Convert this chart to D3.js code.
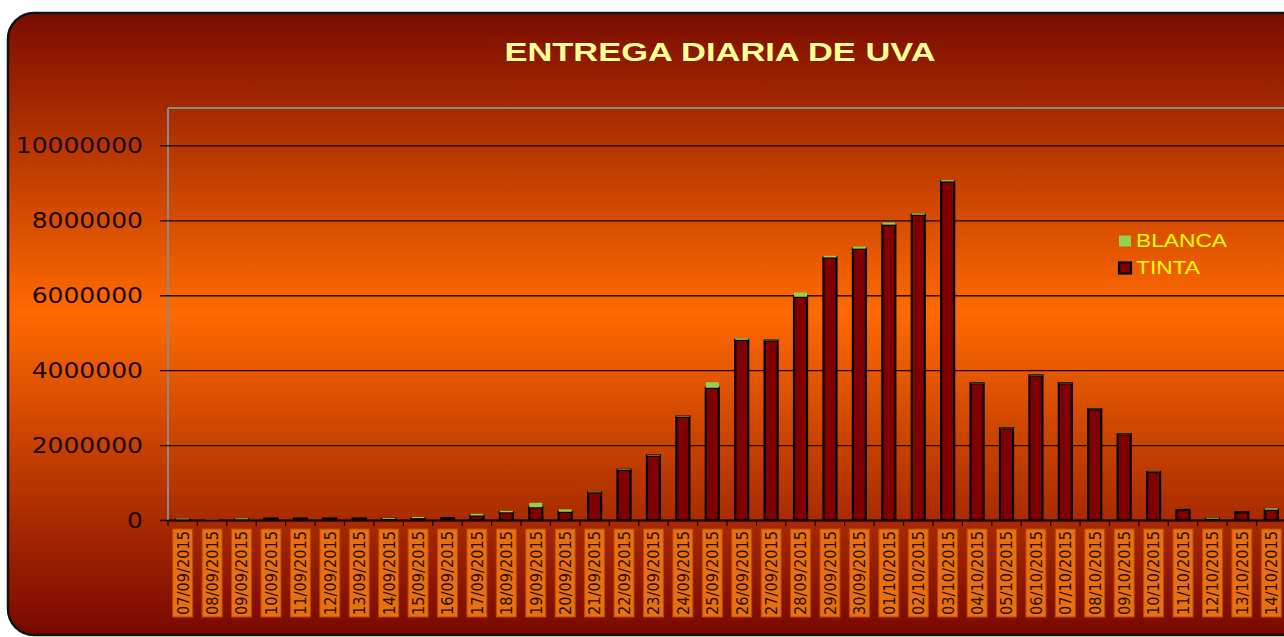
<!DOCTYPE html>
<html>
<head>
<meta charset="utf-8">
<script src="https://cdn.jsdelivr.net/npm/d3@7"></script>
<style>
  body { margin: 0; background: #fff; }
</style>
</head>
<body>
<div id="chart"></div>
<script>
// Entrega diaria de uva

var dates = ["07/09/2015", "08/09/2015", "09/09/2015", "10/09/2015", "11/09/2015", "12/09/2015",
  "13/09/2015", "14/09/2015", "15/09/2015", "16/09/2015", "17/09/2015", "18/09/2015", "19/09/2015",
  "20/09/2015", "21/09/2015", "22/09/2015", "23/09/2015", "24/09/2015", "25/09/2015", "26/09/2015",
  "27/09/2015", "28/09/2015", "29/09/2015", "30/09/2015", "01/10/2015", "02/10/2015", "03/10/2015",
  "04/10/2015", "05/10/2015", "06/10/2015", "07/10/2015", "08/10/2015", "09/10/2015", "10/10/2015",
  "11/10/2015", "12/10/2015", "13/10/2015", "14/10/2015"];

var tinta = [10000, 0, 15000, 40000, 40000, 40000, 40000, 30000, 50000, 50000, 120000, 205000, 340000,
  220000, 740000, 1340000, 1720000, 2760000, 3530000, 4810000, 4790000, 5960000, 7010000, 7245000,
  7885000, 8150000, 9040000, 3650000, 2450000, 3860000, 3650000, 2960000, 2290000, 1280000,
  267000, 35000, 205000, 275000];

var blanca = [30000, 15000, 30000, 0, 0, 0, 0, 25000, 30000, 0, 45000, 40000, 120000,
  64000, 20000, 15000, 15000, 15000, 150000, 40000, 10000, 115000, 45000, 55000,
  55000, 35000, 35000, 10000, 10000, 10000, 10000, 10000, 10000, 10000,
  0, 25000, 0, 37000];

var yTicks = [0, 2000000, 4000000, 6000000, 8000000, 10000000];
var seriesNames = ["BLANCA", "TINTA"];
var seriesColors = ["#92d050", "#800000"];

var svgWidth = 1284, svgHeight = 637;
var margin = {top: 108, left: 168, bottom: 117};
var plotWidth = 1118;
var plotHeight = svgHeight - margin.top - margin.bottom;
var stretch = 1.3; // the original picture is wider than tall fonts

var svg = d3.select("#chart").append("svg")
  .attr("width", svgWidth)
  .attr("height", svgHeight);

var defs = svg.append("defs");
var grad = defs.append("linearGradient")
  .attr("id", "bg")
  .attr("x1", 0).attr("y1", 0).attr("x2", 0).attr("y2", 1);
grad.append("stop").attr("offset", "0%").attr("stop-color", "#7a0c00");
grad.append("stop").attr("offset", "48%").attr("stop-color", "#ff6a00");
grad.append("stop").attr("offset", "100%").attr("stop-color", "#780800");

svg.append("rect")
  .attr("x", 8).attr("y", 13)
  .attr("width", 1310).attr("height", 622)
  .attr("rx", 26).attr("ry", 26)
  .attr("fill", "url(#bg)")
  .attr("stroke", "#111")
  .attr("stroke-width", 2.5);

svg.append("text")
  .attr("transform", `translate(720, 61) scale(${stretch}, 1)`)
  .attr("text-anchor", "middle")
  .attr("font-family", "Liberation Sans, Arial, sans-serif")
  .attr("font-weight", "bold")
  .attr("font-size", "26.5px")
  .attr("fill", "#ffff99")
  .text("ENTREGA DIARIA DE UVA");

var chartGroup = svg.append("g")
  .attr("transform", `translate(${margin.left}, ${margin.top})`);

var xScale = d3.scaleBand()
  .domain(dates)
  .range([0, plotWidth])
  .paddingInner(0.5)
  .paddingOuter(0.25);

var yScale = d3.scaleLinear()
  .domain([0, 11000000])
  .range([plotHeight, 0]);

// plot area frame
chartGroup.append("line")
  .attr("x1", 0).attr("x2", plotWidth).attr("y1", 0).attr("y2", 0)
  .attr("stroke", "#8a8a8a").attr("stroke-width", 2);
chartGroup.append("line")
  .attr("x1", 0).attr("x2", 0).attr("y1", 0).attr("y2", plotHeight)
  .attr("stroke", "#8a8a8a").attr("stroke-width", 2);

// y axis with gridlines
var yAxis = d3.axisLeft(yScale)
  .tickValues(yTicks)
  .tickSize(-plotWidth)
  .tickFormat(d3.format("d"));

var yG = chartGroup.append("g").call(yAxis);
yG.select(".domain").remove();
yG.selectAll(".tick line")
  .attr("x1", -8)
  .attr("stroke", "#1a0500")
  .attr("stroke-width", 1.3);
yG.selectAll(".tick text")
  .attr("x", null)
  .attr("transform", "translate(-25, 0) scale(1.22, 1)")
  .attr("font-family", "DejaVu Sans, sans-serif")
  .attr("font-size", "20.5px")
  .attr("fill", "#1a0800")
  .attr("dy", "0.36em");

// stacked bars
var stackData = dates.map(function(d, i) {
  return {date: d, TINTA: tinta[i], BLANCA: blanca[i]};
});
var stack = d3.stack().keys(["TINTA", "BLANCA"]);
var layers = stack(stackData);

var bw = 13;
chartGroup.selectAll(".layer")
  .data(layers)
  .enter().append("g")
  .attr("class", "layer")
  .attr("fill", d => d.key === "TINTA" ? seriesColors[1] : seriesColors[0])
  .attr("stroke", d => d.key === "TINTA" ? "#000" : "none")
  .attr("stroke-width", 2.2)
  .selectAll("rect")
  .data(d => d)
  .enter().append("rect")
  .attr("x", d => xScale(d.data.date) + xScale.bandwidth() / 2 - bw / 2)
  .attr("y", d => yScale(d[1]))
  .attr("width", bw)
  .attr("height", d => Math.max(0, yScale(d[0]) - yScale(d[1])));

// x axis
var xAxis = d3.axisBottom(xScale).tickSize(0).tickFormat("");
var xG = chartGroup.append("g")
  .attr("transform", `translate(0, ${plotHeight})`)
  .call(xAxis);
xG.select(".domain").attr("stroke", "#1a0500").attr("stroke-width", 2);

var step = xScale.step();
var x0 = xScale(dates[0]) - xScale.paddingOuter() * step;
chartGroup.selectAll(".xtick")
  .data(d3.range(dates.length + 1))
  .enter().append("line")
  .attr("x1", i => x0 + i * step).attr("x2", i => x0 + i * step)
  .attr("y1", plotHeight).attr("y2", plotHeight + 6)
  .attr("stroke", "#1a0500").attr("stroke-width", 1.3);

var labels = chartGroup.selectAll(".xlab")
  .data(dates)
  .enter().append("g")
  .attr("class", "xlab")
  .attr("transform", d => `translate(${xScale(d) + xScale.bandwidth() / 2}, ${plotHeight + 53}) rotate(-90)`);

labels.append("rect")
  .attr("x", -44).attr("y", -10)
  .attr("width", 88).attr("height", 20)
  .attr("fill", "#e8700e")
  .attr("stroke", "#b94a06")
  .attr("stroke-width", 1);

labels.append("text")
  .attr("transform", `scale(1, ${stretch})`)
  .attr("text-anchor", "middle")
  .attr("dy", "0.36em")
  .attr("textLength", 84)
  .attr("lengthAdjust", "spacingAndGlyphs")
  .attr("font-family", "DejaVu Sans, sans-serif")
  .attr("font-size", "12.5px")
  .attr("fill", "#2a0e00")
  .text(d => d);

// legend
var legend = svg.append("g")
  .attr("transform", "translate(1119, 241)");
var items = legend.selectAll(".leg")
  .data(seriesNames)
  .enter().append("g")
  .attr("transform", (d, i) => `translate(0, ${i * 27})`);
items.append("rect")
  .attr("x", (d, i) => i === 1 ? 0 : 0).attr("y", -5.5)
  .attr("width", (d, i) => i === 1 ? 12 : 12).attr("height", 11)
  .attr("fill", (d, i) => seriesColors[i])
  .attr("stroke", (d, i) => i === 1 ? "#000" : "none")
  .attr("stroke-width", 2.2);
items.append("text")
  .attr("transform", `translate(17, 0) scale(${stretch}, 1)`)
  .attr("dy", "0.36em")
  .attr("font-family", "Liberation Sans, Arial, sans-serif")
  .attr("font-size", "17.5px")
  .attr("fill", "#ffff00")
  .text(d => d);
</script>
</body>
</html>
